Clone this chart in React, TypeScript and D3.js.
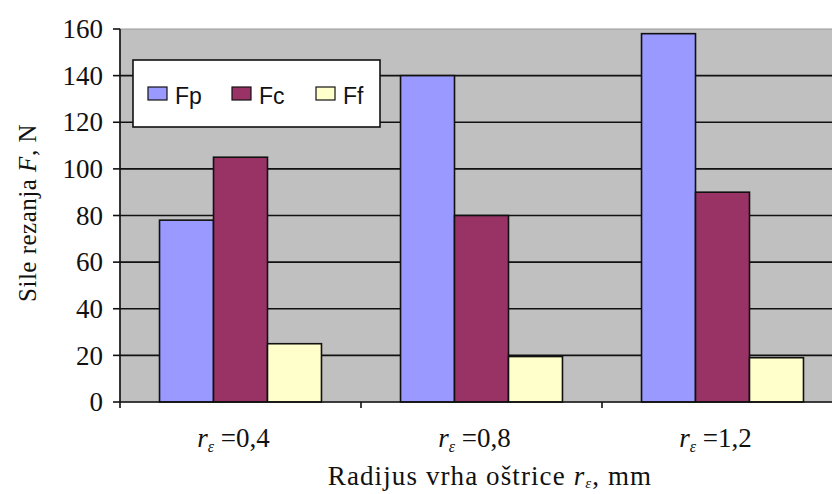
import React from "react";
import * as d3 from "d3";

const categories = ["0,4", "0,8", "1,2"];
const seriesNames = ["Fp", "Fc", "Ff"];
const Fp = [78, 140, 158];
const Fc = [105, 80, 90];
const Ff = [25, 19.5, 19];
const yTicks = [0, 20, 40, 60, 80, 100, 120, 140, 160];
const colors = ["#9999ff", "#993366", "#ffffcc"];

const W = 832, H = 494;
const left = 120, right = 843, top = 29, bottom = 402;

export default function App() {
  const values = [Fp, Fc, Ff];
  const x = d3.scaleBand<string>().domain(categories).range([left, right]).paddingInner(0.328).paddingOuter(0.164);
  const xs = d3.scaleBand<string>().domain(seriesNames).range([0, x.bandwidth()]);
  const y = d3.scaleLinear().domain([0, 160]).range([bottom, top]);
  const serif = "'Liberation Serif', 'Times New Roman', serif";
  const sans = "'Liberation Sans', Arial, sans-serif";
  const step = x.step();
  const catTicks = [0, 1, 2, 3].map((i) => left + i * step);

  return (
    <svg width={W} height={H} style={{ position: "absolute", left: 0, top: 0, background: "#fff" }}>
      <rect x={left} y={top} width={right - left} height={bottom - top} fill="#c0c0c0" stroke="#9a9a9a" strokeWidth={1} />
      {yTicks.slice(1, -1).map((t) => (
        <line key={t} x1={left} x2={right} y1={y(t)} y2={y(t)} stroke="#111" strokeWidth={1.6} />
      ))}
      {categories.map((c, i) =>
        seriesNames.map((s, j) => {
          const v = values[j][i];
          return (
            <rect key={c + s} x={(x(c) as number) + (xs(s) as number)} y={y(v)} width={xs.bandwidth()} height={y(0) - y(v)}
              fill={colors[j]} stroke="#111" strokeWidth={1.6} />
          );
        })
      )}
      <line x1={left} x2={left} y1={top} y2={bottom} stroke="#111" strokeWidth={1.6} />
      <line x1={left} x2={right} y1={bottom} y2={bottom} stroke="#111" strokeWidth={1.6} />
      {yTicks.map((t) => (
        <g key={t}>
          <line x1={left - 7} x2={left} y1={y(t)} y2={y(t)} stroke="#111" strokeWidth={1.6} />
          <text x={103} y={y(t)} dy="0.34em" textAnchor="end" fontFamily={serif} fontSize={27} fill="#111">{t}</text>
        </g>
      ))}
      {catTicks.map((t, i) => (
        <line key={i} x1={t} x2={t} y1={bottom} y2={bottom + 6} stroke="#111" strokeWidth={1.6} />
      ))}
      {categories.map((c) => (
        <text key={c} x={(x(c) as number) + x.bandwidth() / 2 - 7} y={447} textAnchor="middle" fontFamily={serif} fontSize={27} fill="#111">
          <tspan fontStyle="italic">r</tspan>
          <tspan fontStyle="italic" fontSize={16} dy={5}>ε</tspan>
          <tspan dy={-5}>{" =" + c}</tspan>
        </text>
      ))}
      <text x={490} y={485} textAnchor="middle" fontFamily={serif} fontSize={27} letterSpacing={1.1} fill="#111">
        Radijus vrha oštrice <tspan fontStyle="italic">r</tspan>
        <tspan fontStyle="italic" fontSize={15} dy={3}>ε</tspan>
        <tspan dy={-3}>, mm</tspan>
      </text>
      <text transform={`translate(36, 213) rotate(-90)`} textAnchor="middle" fontFamily={serif} fontSize={25} letterSpacing={0.5} fill="#111">
        Sile rezanja <tspan fontStyle="italic">F</tspan>, N
      </text>
      <rect x={133} y={60} width={247} height={67} fill="#fff" stroke="#111" strokeWidth={1.6} />
      {seriesNames.map((s, j) => {
        const lx = [148, 232, 316][j];
        return (
          <g key={s}>
            <rect x={lx} y={87} width={19} height={13} fill={colors[j]} stroke="#111" strokeWidth={1.2} />
            <text x={lx + 27} y={104} fontFamily={sans} fontSize={23} fill="#111">{s}</text>
          </g>
        );
      })}
    </svg>
  );
}
